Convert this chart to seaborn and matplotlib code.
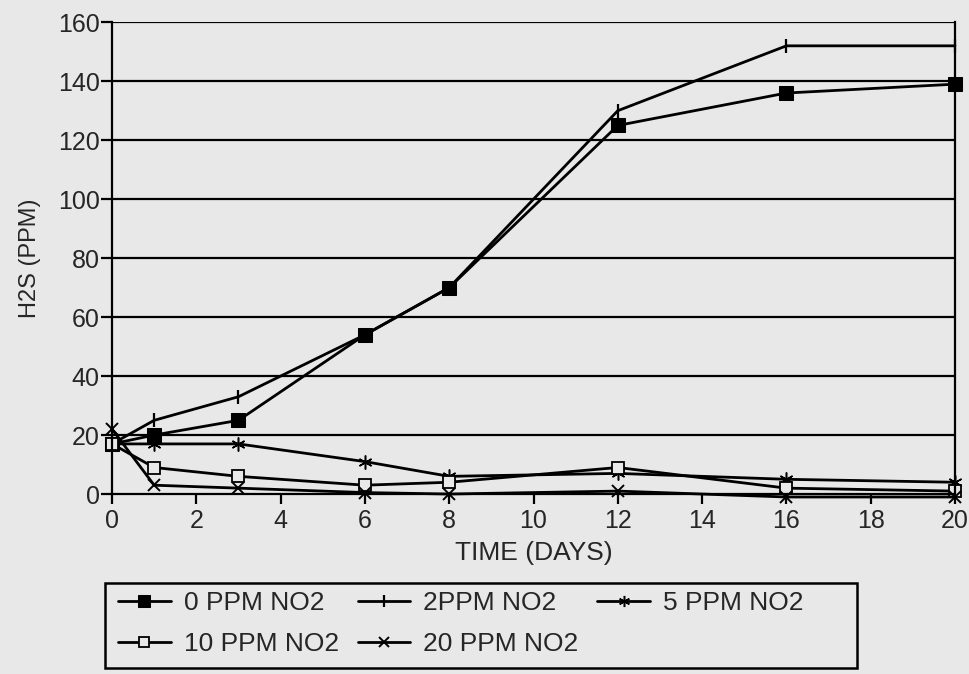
import seaborn as sns
import matplotlib
matplotlib.use("Agg")
import matplotlib.pyplot as plt
from matplotlib.patches import Rectangle
import pandas as pd

days = [0, 1, 3, 6, 8, 12, 16, 20]
ppm0 = [17, 20, 25, 54, 70, 125, 136, 139]
ppm2 = [17, 25, 33, 54, 70, 130, 152, 152]
ppm5 = [17, 17, 17, 11, 6, 7, 5, 4]
ppm10 = [17, 9, 6, 3, 4, 9, 2, 1]
ppm20 = [22, 3, 2, 0.5, 0, 1, -1, -1]
labels = ["0 PPM NO2", "2PPM NO2", "5 PPM NO2", "10 PPM NO2", "20 PPM NO2"]

bg = "#e8e8e8"
sns.set_style("ticks")
plt.rcParams["font.family"] = ["Liberation Sans", "DejaVu Sans"]

fig = plt.figure(figsize=(9.7, 6.74), dpi=100, facecolor=bg)
ax = fig.add_axes([0.1155, 0.267, 0.869, 0.70])
ax.set_facecolor(bg)

styles = [
    dict(marker="s", markersize=10, mfc="black", mec="black"),
    dict(marker="|", markersize=10, mew=1.6, mec="black"),
    dict(marker=(6, 2, 0), markersize=10, mew=1.1, mec="black"),
    dict(marker="s", markersize=9, mfc=bg, mec="black", mew=1.3),
    dict(marker="x", markersize=9, mew=1.4, mec="black"),
]

for vals, lab, st in zip([ppm0, ppm2, ppm5, ppm10, ppm20], labels, styles):
    df = pd.DataFrame({"day": days, "h2s": vals})
    sns.lineplot(data=df, x="day", y="h2s", color="black", lw=2,
                 label=lab, ax=ax, clip_on=False, **st)

ax.set_xlim(0, 20)
ax.set_ylim(0, 160)
ax.set_xticks(range(0, 21, 2))
ax.set_yticks(range(0, 161, 20))
for y in range(20, 161, 20):
    ax.axhline(y, color="black", lw=1.6, zorder=1)
for s in ax.spines.values():
    s.set_color("black")
    s.set_linewidth(1.6)
ax.spines["top"].set_visible(False)
ax.tick_params(axis="both", labelsize=18, width=1.6, color="black", direction="out")
ax.tick_params(axis="y", length=8, pad=1)
ax.tick_params(axis="x", length=7)
ax.set_xlabel("TIME (DAYS)", fontsize=19, labelpad=6)
ax.set_ylabel("H2S (PPM)", fontsize=17, labelpad=12)

handles, labs = ax.get_legend_handles_labels()
ax.get_legend().remove()
order = [0, 3, 1, 4, 2]
leg = fig.legend([handles[i] for i in order], [labs[i] for i in order],
                 loc="upper left", bbox_to_anchor=(0.1216, 0.123), ncol=3,
                 fontsize=19, frameon=False, handlelength=2.0,
                 columnspacing=0.7, handletextpad=0.5, borderpad=0,
                 borderaxespad=0, labelspacing=0.65, markerscale=0.8)
fig.patches.append(Rectangle((0.108, 0.009), 0.776, 0.126, transform=fig.transFigure,
                             fill=False, edgecolor="black", lw=1.8))

fig.savefig("out.png", dpi=100, facecolor=bg)
